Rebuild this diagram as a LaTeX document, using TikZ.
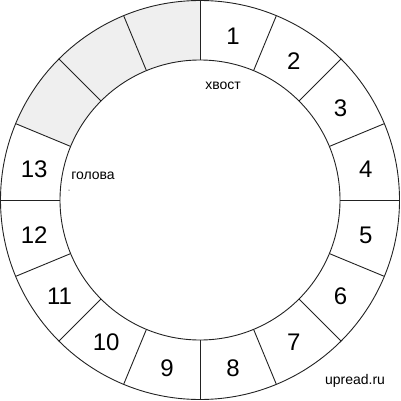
\documentclass[tikz,border=0pt]{standalone}
\usepackage{fontspec}
\setmainfont{Liberation Sans}
\definecolor{ringline}{HTML}{222222}
\definecolor{freeseg}{HTML}{EFEFEF}
\definecolor{txt}{HTML}{000000}
\tikzset{
  ring/.style={draw=ringline, line width=0.9pt},
  numlabel/.style={font=\fontsize{24}{24}\selectfont, text=txt, inner sep=0pt},
  smalllabel/.style={font=\fontsize{14}{14}\selectfont, text=txt, inner sep=0pt},
}
\begin{document}
\begin{tikzpicture}[x=1pt,y=-1pt]
\useasboundingbox (0,0) rectangle (401,401);
\coordinate (c) at (200,200);
\begin{scope}[shift={(200,200)}, y=1pt]
\fill[freeseg] (90:199.5) arc[start angle=90,end angle=157.5,radius=199.5]
   -- (157.5:140) arc[start angle=157.5,end angle=90,radius=140] -- cycle;
\draw[ring] (0,0) circle[radius=199.5];
\draw[ring] (0,0) circle[radius=140];
\foreach \i in {0,...,15}{
  \draw[ring] ({90-22.5*\i}:140) -- ({90-22.5*\i}:199.5);
}
\foreach \k in {1,...,13}{
  \node[numlabel, yshift=-2pt] (n\k) at ({90-22.5*(\k-0.5)}:169) {\k};
}
\end{scope}
\node[smalllabel] (tail) at (223,86) {хвост};
\node[smalllabel] (head) at (93,176) {голова};
\node[smalllabel] (site) at (355,381) {upread.ru};
\coordinate (dot) at (69,190);
\fill[txt] (dot) circle[radius=0.5];
\end{tikzpicture}
\end{document}
